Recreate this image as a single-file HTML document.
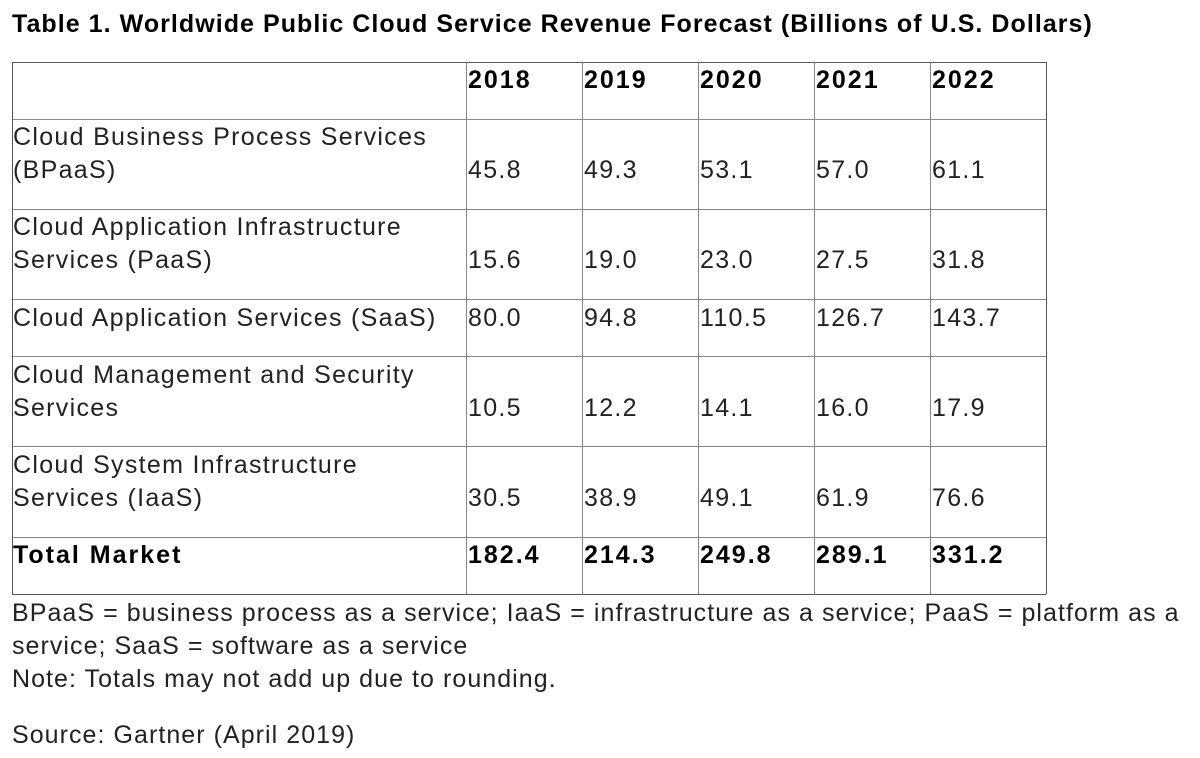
<!DOCTYPE html>
<html><head><meta charset="utf-8"><style>
body{margin:0;width:1200px;height:758px;background:#fff;position:relative;font-family:"Liberation Sans",sans-serif;color:#222;overflow:hidden}
.t{position:absolute;white-space:nowrap;font-size:25px;line-height:33px;letter-spacing:1.3px}
.b{font-weight:bold;color:#000;letter-spacing:2px}
.h{position:absolute;height:1px;background:#888;left:12px;width:1034px}
.v{position:absolute;width:1px;background:#888;top:62px;height:532px}
</style></head><body>
<div class="t b" style="left:12px;top:8px;font-size:25px;letter-spacing:1.05px">Table 1. Worldwide Public Cloud Service Revenue Forecast (Billions of U.S. Dollars)</div>
<div class="h" style="top:62px;background:#555"></div>
<div class="h" style="top:119px"></div>
<div class="h" style="top:209px"></div>
<div class="h" style="top:299px"></div>
<div class="h" style="top:356px"></div>
<div class="h" style="top:446px"></div>
<div class="h" style="top:537px"></div>
<div class="h" style="top:594px;background:#555"></div>
<div class="v" style="left:12px;background:#555"></div>
<div class="v" style="left:466px"></div>
<div class="v" style="left:582px"></div>
<div class="v" style="left:698px"></div>
<div class="v" style="left:814px"></div>
<div class="v" style="left:930px"></div>
<div class="v" style="left:1046px;background:#555"></div>

<div class="t b" style="left:468px;top:64px">2018</div>
<div class="t b" style="left:584px;top:64px">2019</div>
<div class="t b" style="left:700px;top:64px">2020</div>
<div class="t b" style="left:816px;top:64px">2021</div>
<div class="t b" style="left:932px;top:64px">2022</div>

<div class="t" style="left:13px;top:121px">Cloud Business Process Services<br>(BPaaS)</div>
<div class="t" style="left:468px;top:154px">45.8</div><div class="t" style="left:584px;top:154px">49.3</div><div class="t" style="left:700px;top:154px">53.1</div><div class="t" style="left:816px;top:154px">57.0</div><div class="t" style="left:932px;top:154px">61.1</div>

<div class="t" style="left:13px;top:211px">Cloud Application Infrastructure<br>Services (PaaS)</div>
<div class="t" style="left:468px;top:244px">15.6</div><div class="t" style="left:584px;top:244px">19.0</div><div class="t" style="left:700px;top:244px">23.0</div><div class="t" style="left:816px;top:244px">27.5</div><div class="t" style="left:932px;top:244px">31.8</div>

<div class="t" style="left:13px;top:302px">Cloud Application Services (SaaS)</div>
<div class="t" style="left:468px;top:302px">80.0</div><div class="t" style="left:584px;top:302px">94.8</div><div class="t" style="left:700px;top:302px">110.5</div><div class="t" style="left:816px;top:302px">126.7</div><div class="t" style="left:932px;top:302px">143.7</div>

<div class="t" style="left:13px;top:359px">Cloud Management and Security<br>Services</div>
<div class="t" style="left:468px;top:392px">10.5</div><div class="t" style="left:584px;top:392px">12.2</div><div class="t" style="left:700px;top:392px">14.1</div><div class="t" style="left:816px;top:392px">16.0</div><div class="t" style="left:932px;top:392px">17.9</div>

<div class="t" style="left:13px;top:449px">Cloud System Infrastructure<br>Services (IaaS)</div>
<div class="t" style="left:468px;top:482px">30.5</div><div class="t" style="left:584px;top:482px">38.9</div><div class="t" style="left:700px;top:482px">49.1</div><div class="t" style="left:816px;top:482px">61.9</div><div class="t" style="left:932px;top:482px">76.6</div>

<div class="t b" style="left:13px;top:539px">Total Market</div>
<div class="t b" style="left:468px;top:539px">182.4</div><div class="t b" style="left:584px;top:539px">214.3</div><div class="t b" style="left:700px;top:539px">249.8</div><div class="t b" style="left:816px;top:539px">289.1</div><div class="t b" style="left:932px;top:539px">331.2</div>

<div class="t" style="left:12px;top:597px;letter-spacing:1.05px">BPaaS = business process as a service; IaaS = infrastructure as a service; PaaS = platform as a<br>service; SaaS = software as a service<br>Note: Totals may not add up due to rounding.</div>
<div class="t" style="left:12px;top:719px;letter-spacing:1.05px">Source: Gartner (April 2019)</div>
</body></html>
